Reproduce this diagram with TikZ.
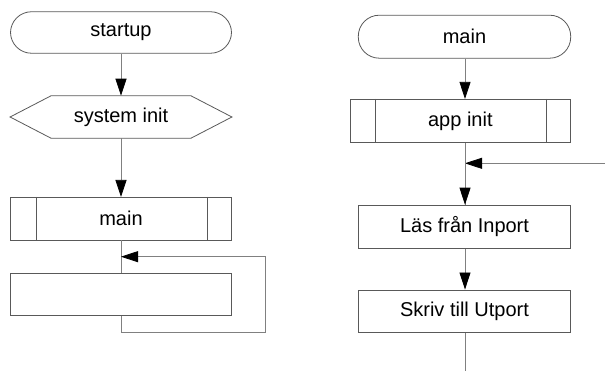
\documentclass[tikz,border=0pt]{standalone}
\usepackage{fontspec}
\setmainfont{Liberation Sans}
\usetikzlibrary{arrows.meta}
\begin{document}
\begin{tikzpicture}[x=1pt,y=-1pt,
  box/.style={draw=black!65,line width=0.8pt,minimum width=#1,minimum height=43pt,inner sep=0pt,font=\fontsize{20}{23}\selectfont},
  box/.default=212.4pt,
  term/.style={box=#1,rounded corners=21pt},
  term/.default=212.4pt,
  conn/.style={draw=black!50,line width=0.8pt},
  arr/.style={conn,-{Triangle[length=17pt,width=11pt,fill=black,color=black]}}]
\useasboundingbox (0,0) rectangle (605,371);
% left column
\node[term=221pt,minimum height=41.5pt] (startup) at (121,32.5) {startup};
\node[box=221pt,draw=none,minimum height=41.7pt] (sysinit) at (121,117) {system init};
\draw[black!65,line width=0.8pt] (sysinit.west) -- ([xshift=41pt]sysinit.north west) -- ([xshift=-41pt]sysinit.north east) -- (sysinit.east) -- ([xshift=-41pt]sysinit.south east) -- ([xshift=41pt]sysinit.south west) -- cycle;
\node[box=221pt,minimum height=42.7pt] (mainL) at (121,218.7) {main};
\draw[black!65,line width=0.8pt] ([xshift=26pt]mainL.north west) -- ([xshift=26pt]mainL.south west)
  ([xshift=-25pt]mainL.north east) -- ([xshift=-25pt]mainL.south east);
\node[box=221pt,minimum height=42.7pt] (empty) at (121,294.5) {};
\coordinate (jL) at (121,256.7);
\coordinate (l1) at (121,332.2);
\coordinate (l2) at (265.7,332.2);
\coordinate (l3) at (265.7,256.7);
\draw[arr] (startup) -- (sysinit.north);
\draw[arr] (sysinit.south) -- (mainL.north);
\draw[conn] (mainL.south) -- (empty.north);
\draw[arr] (empty.south) -- (l1) -- (l2) -- (l3) -- (jL);
% right column
\node[term] (mainR) at (464.5,36.7) {main};
\node[box=220.7pt,minimum height=43.4pt] (app) at (460.35,121) {app init};
\draw[black!65,line width=0.8pt] ([xshift=25.4pt]app.north west) -- ([xshift=25.4pt]app.south west)
  ([xshift=-25pt]app.north east) -- ([xshift=-25pt]app.south east);
\node[box,minimum height=43.3pt] (las) at (464.5,226.7) {Läs från Inport};
\node[box,minimum height=42.7pt] (skriv) at (464.5,311.3) {Skriv till Utport};
\coordinate (jR) at (465,163.3);
\coordinate (inR) at (605,163.3);
\coordinate (outR) at (465,371);
\draw[arr] (mainR.south -| jR) -- (app.north -| jR);
\draw[conn] (app.south -| jR) -- (las.north -| jR);
\draw[arr] (inR) -- (jR);
\draw[arr] (jR) -- (las.north -| jR);
\draw[arr] (las.south -| jR) -- (skriv.north -| jR);
\draw[conn] (skriv.south -| jR) -- (outR);
\end{tikzpicture}
\end{document}
